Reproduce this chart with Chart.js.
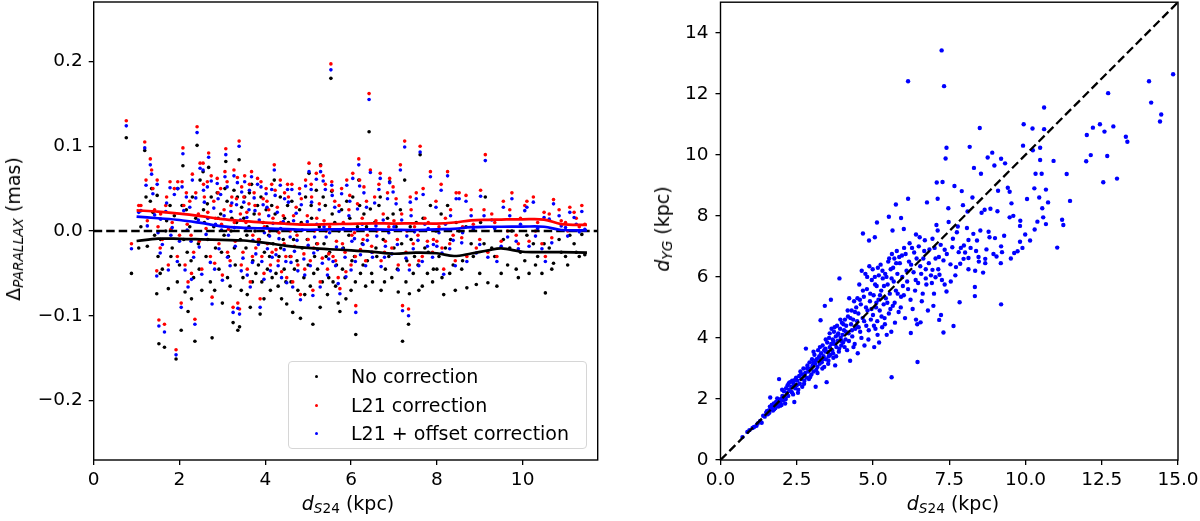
<!DOCTYPE html>
<html>
<head>
<meta charset="utf-8">
<script src="https://cdn.jsdelivr.net/npm/chart.js@4.4.1/dist/chart.umd.min.js"></script>
<style>
  body { margin: 0; background: #fff; width: 1200px; height: 521px; overflow: hidden; position: relative;
         font-family: 'DejaVu Sans', sans-serif; color: #000; }
  canvas { position: absolute; top: 0; }
  #left { left: 0; }
  #right { left: 600px; }
  .ttl { position: absolute; font-size: 19px; white-space: nowrap; transform: translate(-50%, -50%); }
  .ttl sub { font-size: 72%; position: relative; top: 0.25em; vertical-align: baseline; }
  .rot { transform: translate(-50%, -50%) rotate(-90deg); }
  #legend { position: absolute; left: 288px; top: 361px; width: 299px; height: 88px; box-sizing: border-box;
            border: 1px solid #d6d6d6; border-radius: 4px; background: rgba(255,255,255,0.8); font-size: 19px; }
  .row { position: absolute; left: 62px; height: 24px; line-height: 24px; white-space: nowrap; }
  .dot { position: absolute; left: 26px; width: 3px; height: 3px; border-radius: 50%; }
</style>
</head>
<body>
<canvas id="left" width="600" height="521"></canvas>
<canvas id="right" width="600" height="521"></canvas>

<div class="ttl" style="left:348px;top:503px"><i>d</i><sub><i>S</i>24</sub> (kpc)</div>
<div class="ttl rot" style="left:13px;top:229px">Δ<sub><i>PARALLAX</i></sub> (mas)</div>
<div class="ttl" style="left:953px;top:503px"><i>d</i><sub><i>S</i>24</sub> (kpc)</div>
<div class="ttl rot" style="left:662px;top:229px"><i>d</i><sub><i>YG</i></sub> (kpc)</div>

<div id="legend">
  <div class="dot" style="top:13px;background:#000"></div><div class="row" style="top:2px">No correction</div>
  <div class="dot" style="top:42px;background:#f00"></div><div class="row" style="top:31px">L21 correction</div>
  <div class="dot" style="top:70px;background:#00f"></div><div class="row" style="top:59px">L21 + offset correction</div>
</div>

<script>
// --- left panel: parallax residuals per star (same index = same star) ---
const distS24 = [
  0.76,0.88,1.05,1.10,1.19,1.22,1.32,1.35,1.42,1.47,
  1.48,1.50,1.52,1.56,1.60,1.65,1.70,1.74,1.78,1.83,
  1.88,1.92,1.96,2.00,2.04,2.08,2.10,2.13,2.16,2.20,
  2.24,2.27,2.30,2.33,2.36,2.41,2.44,2.48,2.52,2.55,
  2.58,2.62,2.65,2.68,2.72,2.76,2.80,2.84,2.88,2.92,
  2.96,3.00,3.04,3.08,3.11,3.14,3.18,3.22,3.25,3.27,
  3.30,3.33,3.36,3.39,3.40,3.42,3.45,3.48,3.52,3.55,
  3.58,3.62,3.65,3.68,3.71,3.74,3.78,3.82,3.86,3.88,
  3.92,3.95,3.98,4.02,4.05,4.08,4.12,4.15,4.18,4.21,
  4.25,4.28,4.32,4.35,4.38,4.42,4.45,4.48,4.50,4.54,
  4.58,4.62,4.64,4.68,4.72,4.76,4.80,4.82,4.86,4.90,
  4.94,4.98,5.02,5.05,5.08,5.11,5.15,5.19,5.22,5.26,
  5.29,5.33,5.37,5.40,5.45,5.50,5.53,5.55,5.58,5.62,
  5.66,5.70,5.74,5.78,5.82,5.86,5.90,5.95,6.00,6.04,
  6.08,6.11,6.15,6.18,6.22,6.26,6.30,6.34,6.38,6.42,
  6.45,6.50,6.55,6.60,6.65,6.70,6.75,6.80,6.85,6.90,
  6.95,7.00,7.05,7.10,7.15,7.20,7.25,7.30,7.34,7.36,
  7.40,7.45,7.52,7.56,7.61,7.66,7.72,7.78,7.85,7.92,
  7.98,8.05,8.12,8.16,8.25,8.32,8.38,8.43,8.52,8.60,
  8.70,8.80,8.92,9.02,9.13,9.19,9.28,9.40,9.55,9.65,
  9.75,9.85,9.95,10.05,10.15,10.25,10.35,10.45,10.53,10.62,
  10.72,10.85,11.00,11.10,11.25,11.38,11.45,
  1.25,1.38,1.55,1.68,1.80,1.95,2.06,2.18,2.28,2.38,
  2.46,2.56,2.66,2.74,2.82,2.90,2.98,3.06,3.12,3.20,
  3.28,3.35,3.44,3.50,3.57,3.63,3.70,3.76,3.84,3.90,
  3.97,4.04,4.10,4.16,4.23,4.30,4.36,4.44,4.52,4.60,
  4.66,4.74,4.84,4.92,5.00,5.07,5.13,5.20,5.28,5.35,
  5.42,5.48,5.56,5.64,5.72,5.80,5.88,5.97,6.02,6.10,
  6.20,6.28,6.36,6.48,6.58,6.68,6.78,6.88,6.98,7.08,
  7.18,7.28,7.38,7.48,7.58,7.68,7.80,7.90,8.00,8.10,
  8.20,8.30,8.45,8.58,8.68,8.85,9.00,9.10,9.35,9.50,
  9.70,9.90,10.10,10.30,10.50,10.68,10.90,11.05,11.20,11.32
];
const plxNoCorr = [
  0.110,-0.050,-0.020,0.005,0.095,0.040,0.035,0.050,-0.005,-0.074,
  0.042,-0.030,-0.133,-0.010,-0.045,-0.137,0.012,-0.068,0.030,-0.020,
  0.018,-0.151,0.050,-0.040,-0.117,0.077,-0.010,-0.072,0.025,-0.095,
  0.005,-0.035,0.040,-0.055,-0.130,0.101,-0.015,0.060,-0.070,0.070,
  0.010,-0.030,0.032,0.075,-0.060,-0.126,0.005,-0.020,0.045,-0.045,
  0.020,-0.085,-0.005,0.082,0.035,-0.030,-0.065,0.015,-0.108,0.048,
  -0.040,0.010,-0.117,0.084,-0.113,-0.010,0.028,-0.055,0.040,-0.020,
  -0.075,0.005,-0.090,0.055,-0.035,0.020,-0.050,0.030,-0.010,-0.098,
  -0.060,0.010,-0.025,0.025,-0.045,-0.005,-0.070,0.030,-0.015,0.060,
  -0.050,0.000,-0.030,0.040,-0.080,-0.010,0.015,-0.060,-0.086,0.010,
  -0.030,0.035,-0.096,-0.045,0.000,-0.070,0.025,-0.103,-0.020,-0.055,
  0.040,-0.010,0.068,-0.065,0.015,-0.110,-0.030,0.048,-0.045,0.005,
  0.078,-0.060,-0.015,0.030,-0.075,-0.025,0.180,0.047,-0.060,0.010,
  -0.040,-0.085,-0.095,0.025,-0.020,-0.055,0.035,-0.005,-0.070,0.040,
  -0.030,-0.122,0.005,0.060,-0.050,-0.015,0.020,-0.065,-0.035,0.117,
  0.026,-0.060,0.010,-0.030,0.030,-0.070,-0.010,-0.045,0.015,0.058,
  -0.055,-0.020,0.005,-0.072,0.025,-0.130,0.060,-0.035,-0.110,-0.074,
  -0.010,-0.050,0.010,-0.040,0.090,-0.065,-0.020,-0.050,0.030,-0.045,
  0.000,-0.030,-0.055,-0.075,0.030,-0.010,-0.040,-0.070,0.000,-0.035,
  -0.067,-0.015,-0.063,0.010,0.040,-0.061,-0.020,-0.065,-0.010,-0.040,
  0.000,-0.045,-0.025,-0.035,-0.050,-0.015,-0.030,-0.050,-0.073,-0.020,
  -0.038,-0.010,-0.030,-0.005,-0.025,-0.004,-0.028,
  -0.018,0.022,-0.050,0.000,-0.030,-0.060,0.030,-0.025,-0.080,0.015,
  -0.045,0.025,-0.010,0.040,-0.070,0.015,-0.025,0.050,-0.055,0.000,
  -0.020,0.040,-0.070,0.015,-0.005,0.045,-0.060,0.000,-0.040,0.040,
  -0.080,0.005,-0.030,-0.055,0.020,-0.065,-0.020,-0.045,0.030,-0.060,
  -0.010,-0.035,0.010,-0.075,-0.040,0.030,-0.050,-0.015,-0.090,0.040,
  -0.030,-0.055,0.020,-0.065,0.000,-0.045,-0.080,0.015,-0.035,-0.060,
  0.030,-0.040,0.005,-0.050,-0.020,0.040,-0.060,-0.030,0.020,-0.045,
  -0.015,-0.060,0.005,-0.030,-0.070,0.015,-0.025,-0.060,-0.045,0.020,
  -0.020,-0.050,0.010,-0.045,0.005,-0.030,-0.050,-0.015,-0.030,-0.050,
  -0.020,-0.055,-0.005,-0.040,-0.015,-0.045,-0.025,-0.040,-0.015,-0.030
];
const plxL21 = [
  0.130,-0.015,0.030,0.030,0.105,0.060,0.085,0.072,0.025,-0.047,
  0.060,0.005,-0.105,0.020,-0.010,-0.110,0.040,-0.040,0.058,0.010,
  0.050,-0.140,0.058,-0.005,-0.085,0.098,0.030,-0.040,0.045,-0.060,
  0.035,-0.005,0.067,-0.025,-0.104,0.123,0.020,0.080,-0.045,0.080,
  0.040,0.003,0.058,0.092,-0.030,-0.078,0.035,0.015,0.062,-0.015,
  0.050,-0.052,0.025,0.097,0.058,0.002,-0.035,0.040,-0.090,0.072,
  -0.012,0.038,-0.085,0.106,-0.092,0.020,0.052,-0.025,0.065,0.010,
  -0.045,0.032,-0.060,0.070,-0.005,0.045,-0.020,0.062,0.020,-0.080,
  -0.030,0.038,0.005,0.050,-0.015,0.025,-0.040,0.055,0.015,0.078,
  -0.022,0.028,-0.002,0.060,-0.048,0.018,0.045,-0.030,-0.055,0.040,
  0.000,0.055,-0.060,-0.018,0.028,-0.040,0.050,-0.075,0.008,-0.027,
  0.060,0.018,0.080,-0.035,0.040,-0.070,0.000,0.068,-0.015,0.032,
  0.077,-0.032,0.012,0.055,-0.045,0.005,0.197,0.058,-0.030,0.035,
  -0.012,-0.055,-0.068,0.050,0.010,-0.025,0.060,0.025,-0.040,0.068,
  -0.002,-0.088,0.032,0.085,-0.022,0.015,0.052,-0.035,-0.005,0.162,
  0.072,-0.025,0.040,0.000,0.055,-0.035,0.020,-0.012,0.045,0.062,
  -0.020,0.012,0.038,-0.040,0.078,-0.088,0.106,0.000,-0.092,-0.040,
  0.025,-0.015,0.045,-0.005,0.100,-0.030,0.015,-0.012,0.070,-0.010,
  0.035,0.005,-0.020,-0.045,0.070,0.025,-0.005,-0.035,0.045,0.005,
  -0.030,0.025,-0.020,0.048,0.090,-0.025,0.020,-0.030,0.035,0.000,
  0.045,-0.005,0.015,0.030,-0.012,0.040,0.010,-0.015,-0.030,0.020,
  0.037,0.025,0.010,0.028,0.015,0.030,0.008,
  0.012,0.050,-0.020,0.030,0.002,-0.030,0.058,0.008,-0.050,0.045,
  -0.012,0.055,0.022,0.065,-0.038,0.045,0.008,0.070,-0.025,0.030,
  0.010,0.063,-0.040,0.040,0.022,0.055,-0.030,0.030,-0.010,0.058,
  -0.050,0.035,0.000,-0.025,0.048,-0.035,0.010,-0.015,0.055,-0.030,
  0.018,-0.005,0.038,-0.045,-0.010,0.055,-0.020,0.015,-0.060,0.065,
  0.000,-0.027,0.048,-0.035,0.030,-0.015,-0.048,0.042,-0.005,-0.030,
  0.060,-0.010,0.035,-0.018,0.012,0.068,-0.025,0.005,0.052,-0.010,
  0.020,-0.025,0.040,0.005,-0.035,0.050,0.010,-0.025,-0.012,0.055,
  0.015,-0.015,0.045,-0.008,0.042,0.008,-0.010,0.025,0.010,-0.012,
  0.025,-0.015,0.035,0.000,0.022,-0.008,0.012,0.000,0.022,0.005
];
const plxL21Off = [
  0.124,-0.021,0.022,0.024,0.098,0.054,0.078,0.067,0.019,-0.053,
  0.055,-0.002,-0.112,0.014,-0.016,-0.119,0.033,-0.046,0.051,0.004,
  0.043,-0.146,0.050,-0.012,-0.090,0.091,0.024,-0.046,0.040,-0.066,
  0.028,-0.012,0.060,-0.031,-0.110,0.116,0.013,0.074,-0.051,0.072,
  0.034,-0.004,0.052,0.087,-0.037,-0.086,0.027,0.008,0.056,-0.021,
  0.043,-0.058,0.018,0.090,0.052,-0.005,-0.041,0.033,-0.096,0.065,
  -0.018,0.031,-0.091,0.100,-0.098,0.013,0.046,-0.032,0.058,0.003,
  -0.052,0.025,-0.066,0.064,-0.011,0.039,-0.027,0.055,0.013,-0.090,
  -0.036,0.031,-0.002,0.044,-0.021,0.018,-0.047,0.049,0.009,0.072,
  -0.028,0.022,-0.009,0.054,-0.055,0.011,0.038,-0.036,-0.061,0.034,
  -0.007,0.049,-0.066,-0.024,0.021,-0.047,0.044,-0.081,0.001,-0.033,
  0.053,0.011,0.070,-0.041,0.034,-0.076,-0.007,0.061,-0.022,0.025,
  0.070,-0.038,0.005,0.049,-0.052,-0.002,0.190,0.054,-0.036,0.028,
  -0.019,-0.062,-0.074,0.044,0.003,-0.031,0.054,0.018,-0.046,0.062,
  -0.009,-0.096,0.026,0.078,-0.028,0.008,0.045,-0.041,-0.011,0.155,
  0.069,-0.031,0.033,-0.006,0.049,-0.042,0.013,-0.018,0.038,0.057,
  -0.027,0.005,0.032,-0.046,0.072,-0.094,0.099,-0.006,-0.100,-0.046,
  0.018,-0.021,0.038,-0.011,0.093,-0.036,0.008,-0.018,0.064,-0.016,
  0.028,-0.002,-0.026,-0.051,0.065,0.018,-0.011,-0.041,0.038,-0.002,
  -0.036,0.018,-0.026,0.041,0.083,-0.031,0.013,-0.036,0.028,-0.007,
  0.038,-0.012,0.008,0.024,-0.018,0.034,0.003,-0.021,-0.036,0.014,
  0.032,0.018,0.004,0.022,0.008,0.023,0.002,
  0.006,0.044,-0.026,0.023,-0.005,-0.036,0.052,0.001,-0.057,0.039,
  -0.019,0.048,0.015,0.059,-0.045,0.038,0.001,0.064,-0.031,0.023,
  0.004,0.057,-0.047,0.034,0.016,0.048,-0.037,0.024,-0.016,0.052,
  -0.057,0.028,-0.006,-0.031,0.042,-0.041,0.003,-0.022,0.049,-0.037,
  0.012,-0.011,0.031,-0.052,-0.017,0.049,-0.026,0.008,-0.066,0.059,
  -0.007,-0.033,0.042,-0.041,0.023,-0.021,-0.054,0.035,-0.012,-0.036,
  0.053,-0.016,0.028,-0.025,0.006,0.062,-0.031,-0.002,0.046,-0.016,
  0.013,-0.032,0.034,-0.001,-0.041,0.043,0.003,-0.031,-0.018,0.048,
  0.008,-0.021,0.038,-0.014,0.035,0.002,-0.016,0.018,0.003,-0.018,
  0.018,-0.021,0.028,-0.006,0.016,-0.014,0.006,-0.006,0.016,-0.001
];

// running means drawn as lines
const trendDist = [1.0,1.5,2.0,2.5,3.0,3.5,4.0,4.5,5.0,5.5,6.0,6.5,7.0,7.5,8.0,8.4,8.8,9.2,9.5,10.0,10.5,10.9,11.5];
const trendNoCorr = [-0.0118,-0.0091,-0.0092,-0.0098,-0.0105,-0.0112,-0.0140,-0.0175,-0.0200,-0.0215,-0.0228,-0.0245,-0.0268,-0.0255,-0.0262,-0.0295,-0.0265,-0.0228,-0.0205,-0.0245,-0.0250,-0.0250,-0.0255];
const trendL21 = [0.0244,0.0228,0.0205,0.0175,0.0140,0.0118,0.0098,0.0085,0.0075,0.0080,0.0085,0.0090,0.0088,0.0090,0.0088,0.0100,0.0125,0.0132,0.0135,0.0138,0.0135,0.0082,0.0072];
const trendL21Off = [0.0169,0.0150,0.0130,0.0095,0.0055,0.0038,0.0030,0.0022,0.0015,0.0018,0.0020,0.0018,0.0015,0.0012,0.0020,0.0025,0.0045,0.0050,0.0050,0.0052,0.0050,0.0012,0.0008];

const leftXTicks = [0, 2, 4, 6, 8, 10];
const leftYTicks = [-0.2, -0.1, 0, 0.1, 0.2];
const leftXMax = 11.75, leftYLim = 0.27;

// --- right panel: d_YG against d_S24 ---
const ygVsS24 = [
  [0.72,0.75],[0.88,0.92],[0.95,0.98],[1.05,1.05],[1.10,1.08],[1.18,1.12],[1.22,1.20],[1.30,1.28],[1.35,1.22],[1.40,1.45],
  [1.45,1.42],[1.50,1.55],[1.52,1.60],[1.58,1.62],[1.60,1.55],[1.62,1.75],[1.65,1.68],[1.70,1.72],[1.72,1.62],[1.75,1.85],
  [1.78,1.78],[1.80,1.70],[1.82,1.90],[1.85,1.82],[1.88,1.95],[1.90,1.75],[1.92,2.65],[1.95,1.88],[1.98,2.00],[2.00,1.80],
  [2.03,2.10],[2.05,1.95],[2.08,2.25],[2.10,2.05],[2.12,1.85],[2.15,2.35],[2.18,2.20],[2.20,2.45],[2.22,2.10],[2.25,2.30],
  [2.28,2.55],[2.30,2.25],[2.32,2.40],[2.35,2.60],[2.38,2.15],[2.40,2.50],[2.42,1.90],[2.45,2.35],[2.48,2.70],[2.50,2.45],
  [1.63,2.05],[2.52,2.60],[2.55,2.30],[2.58,2.75],[2.60,2.50],[2.62,2.90],[2.65,2.65],[2.68,2.40],[2.70,2.80],[2.72,3.00],
  [2.75,2.60],[2.78,2.85],[2.80,3.65],[2.82,2.70],[2.85,3.10],[2.88,2.90],[2.90,2.65],[2.92,3.20],[2.95,3.00],[2.98,2.80],
  [3.00,3.30],[3.02,3.10],[3.05,2.90],[3.08,3.45],[3.10,3.15],[3.12,2.40],[3.15,3.30],[3.18,3.05],[3.20,3.60],[3.22,3.35],
  [3.25,3.15],[3.28,4.58],[3.30,3.50],[3.32,3.20],[3.35,3.75],[3.38,3.40],[3.40,3.05],[3.42,5.05],[3.44,3.65],[3.46,3.30],
  [3.48,2.55],[3.50,3.85],[3.52,3.55],[3.54,3.25],[3.56,4.00],[3.58,3.70],[3.60,3.45],[3.62,5.25],[3.64,4.30],[3.66,3.60],
  [3.68,3.95],[3.70,3.35],[3.72,4.20],[3.74,3.80],[3.76,3.10],[3.78,4.05],[3.80,3.70],[3.82,4.40],[3.84,3.90],[3.86,4.15],
  [3.88,3.55],[3.90,5.95],[3.92,4.30],[3.94,4.00],[3.96,3.75],[3.98,4.50],[4.00,4.10],[4.02,3.85],[4.05,4.25],[4.08,4.60],
  [4.10,3.95],[4.12,4.40],[4.15,3.60],[4.18,4.70],[4.20,4.15],[4.22,5.30],[4.25,3.25],[4.28,4.45],[4.30,4.90],[4.32,4.05],
  [4.35,4.60],[4.38,5.20],[4.40,3.80],[4.42,4.30],[4.45,5.00],[4.48,4.55],[4.50,3.50],[4.52,4.80],[4.55,5.75],[4.58,4.20],
  [4.60,5.10],[4.63,6.20],[4.66,4.65],[4.70,5.35],[4.72,3.75],[4.75,6.10],[4.78,4.40],[4.80,5.60],[4.82,4.90],[4.85,3.95],
  [4.88,6.35],[4.90,5.20],[4.93,4.60],[4.96,5.90],[5.00,4.75],[5.02,5.40],[5.04,3.70],[5.06,6.00],[5.08,4.30],[5.10,5.00],
  [5.12,5.70],[5.14,4.55],[5.16,6.30],[5.18,5.25],[5.20,3.85],[5.22,4.90],[5.25,6.40],[5.27,5.55],[5.30,4.35],[5.32,5.95],
  [5.35,5.10],[5.38,4.65],[5.40,6.10],[5.42,5.30],[5.45,4.10],[5.48,5.75],[5.50,6.50],[5.52,4.80],[5.55,5.45],[5.58,6.25],
  [5.60,4.20],[5.62,6.75],[5.65,5.05],[5.68,5.85],[5.70,6.60],[5.72,4.50],[5.75,5.55],[5.78,6.85],[5.80,6.10],[5.84,4.85],
  [5.88,6.45],[5.92,5.35],[5.95,6.70],[5.98,5.70],[6.02,6.95],[6.05,4.65],[6.10,6.20],[6.15,5.60],[6.20,7.10],[6.25,6.40],
  [6.30,4.95],[6.35,6.80],[6.40,5.90],[6.45,4.45],[6.50,7.00],[6.55,6.35],[6.60,5.20],[6.65,6.60],[6.70,7.20],[6.75,5.75],
  [6.80,4.90],[6.85,6.90],[6.90,6.05],[6.95,7.25],[7.00,5.45],[7.05,6.60],
  [1.55,1.50],[1.68,1.80],[1.76,1.66],[1.86,2.02],[1.96,1.78],[2.02,2.30],[2.14,2.00],[2.24,2.52],[2.34,2.22],[2.44,2.62],
  [2.54,2.20],[2.64,2.80],[2.74,2.50],[2.84,3.00],[2.94,2.72],[3.04,3.20],[3.14,2.95],[3.24,3.40],[3.34,3.00],[3.44,3.55],
  [3.05,3.55],[3.12,3.25],[3.18,2.85],[3.26,3.70],[3.36,3.30],[3.45,3.95],[3.53,3.15],[3.58,4.15],[3.63,3.80],[3.69,3.50],
  [3.74,4.35],[3.79,3.40],[3.85,4.10],[3.89,3.65],[3.93,4.60],[3.97,3.90],[4.03,4.45],[4.07,3.70],[4.11,4.20],[4.17,4.90],
  [4.21,3.90],[4.26,4.65],[4.31,4.25],[4.36,3.70],[4.41,4.85],[4.46,4.40],[4.49,5.30],[3.70,3.90],[3.55,3.40],[3.40,3.60],
  [4.53,4.35],[4.57,5.25],[4.62,4.00],[4.67,5.55],[4.71,4.55],[4.77,5.00],[4.81,6.00],[4.86,4.25],[4.91,5.45],[4.95,4.95],
  [4.99,6.25],[5.03,4.40],[5.07,5.75],[5.11,5.15],[5.15,4.10],[5.19,6.05],[5.23,5.40],[5.28,4.70],[5.31,6.20],[5.36,5.70],
  [5.39,4.45],[5.44,6.00],[5.47,5.15],[5.53,6.60],[5.57,4.95],[5.61,5.95],[5.66,6.30],[5.71,5.15],[5.76,6.45],[5.81,5.45],
  [5.86,6.65],[5.91,5.00],[5.96,6.00],[6.01,5.40],[6.07,6.75],[6.12,5.85],[6.18,6.50],[6.23,5.25],[6.28,6.95],[6.33,6.15],
  [6.38,5.55],[6.43,6.60],[6.48,5.80],[6.53,7.30],[6.58,6.10],[6.63,5.45],[6.68,6.85],[6.73,5.95],[6.83,6.45],[6.93,5.80],
  [7.02,6.95],[7.08,7.70],[7.14,6.25],[7.22,7.05],[7.26,5.90],[7.42,6.75],[7.48,7.80],[7.55,5.85],[7.62,7.25],[7.70,6.05],
  [7.78,7.65],[7.88,6.95],[7.95,8.35],[8.02,6.80],[8.08,7.60],[8.20,6.95],[8.26,8.60],[8.38,6.85],[8.56,8.10],[8.72,6.90],
  [8.82,7.30],[8.95,6.75],[9.08,8.15],[9.30,7.35],[9.52,6.60],[9.60,8.00],[9.90,6.95],[10.05,8.55],[10.30,7.55],[10.58,7.95],
  [7.25,13.42],[6.15,12.41],[7.33,12.25],[14.84,12.64],[14.05,12.41],[14.12,11.71],[14.45,11.32],[14.41,11.09],[12.71,12.02],[10.61,11.55],
  [8.50,10.88],[9.94,11.00],[10.23,10.86],[10.61,10.84],[12.44,11.00],[12.21,10.89],[12.88,10.93],[12.59,10.76],[12.01,10.65],[13.29,10.59],
  [13.34,10.43],[7.41,10.23],[8.17,10.26],[9.92,10.30],[10.48,10.23],[10.24,10.15],[8.91,10.07],[12.14,9.99],[12.68,9.96],[7.38,9.88],
  [8.76,9.91],[9.20,9.87],[10.48,9.83],[10.92,9.80],[11.99,9.79],[9.33,9.72],[8.98,9.65],[8.31,9.57],[8.54,9.38],[10.33,9.38],
  [10.53,9.38],[11.35,9.37],[13.00,9.22],[12.55,9.10],[7.09,9.09],[7.28,9.11],[9.42,8.92],[9.10,8.82],[10.29,8.90],[9.48,8.79],
  [10.67,8.86],[7.67,8.98],[7.91,8.81],[11.46,8.49],[10.45,8.60],[6.15,8.56],[5.75,8.37],[7.12,8.56],[6.77,8.44],[7.47,8.25],
  [8.10,8.14],[8.66,8.20],[8.85,8.23],[9.54,8.41],[10.55,8.25],[10.74,8.44],[5.52,7.97],[5.92,7.93],[5.13,7.78],[9.48,7.95],
  [9.83,7.84],[9.82,7.67],[10.39,7.81],[10.67,7.73],[11.20,7.87],[11.24,7.70],[9.99,7.39],[10.15,7.19],[9.82,7.15],[11.04,6.96],
  [9.63,6.78],[9.74,6.84],[4.67,7.42],[4.87,7.19],[5.06,7.30],[5.64,7.52],[6.01,7.57],[6.41,7.39],[7.12,7.52],[7.75,7.46],
  [8.79,7.48],[9.00,7.27],[9.20,7.00],[9.23,6.81],[9.19,6.45],[9.05,6.67],[8.68,6.59],[8.68,6.45],[8.46,6.65],[8.47,6.50],
  [8.13,6.62],[8.13,6.25],[8.35,6.20],[8.61,6.14],[8.34,5.67],[8.34,5.37],[7.84,5.17],[9.20,5.10],[6.46,3.21],[5.61,2.71],
  [7.64,4.39],[7.31,4.18],[7.17,4.59],[7.23,4.75],[6.98,5.05],[6.24,4.16],[6.41,4.60],[6.56,4.51],[7.41,5.52],[7.35,5.75],
  [7.05,5.99],[7.18,6.07],[6.95,6.23],[6.73,6.25],[7.72,6.32],[7.54,6.41],[7.31,6.54],[7.16,6.65],[7.35,6.89],[7.60,6.97],
  [7.81,6.81],[7.97,6.59],[7.86,6.43],[7.98,7.03],[8.29,7.41],[8.13,7.21],[8.41,7.19],[8.52,7.52]
];
const rightXTicks = [0, 2.5, 5, 7.5, 10, 12.5, 15];
const rightYTicks = [0, 2, 4, 6, 8, 10, 12, 14];
const rightLim = 15;

Chart.defaults.font.family = "'DejaVu Sans', sans-serif";
Chart.defaults.color = '#000';

const framePlugin = {
  id: 'frame',
  afterDatasetsDraw(chart) {
    const { ctx, chartArea: a } = chart;
    ctx.save();
    ctx.strokeStyle = '#000';
    ctx.lineWidth = 1.4;
    ctx.strokeRect(a.left, a.top, a.right - a.left, a.bottom - a.top);
    ctx.restore();
  }
};

// fixed axis sizes so the plot box lands where it is in the figure
function axis(min, max, tickVals, fmt, size, pad) {
  return {
    type: 'linear', min: min, max: max,
    afterBuildTicks: s => { s.ticks = tickVals.map(v => ({ value: v })); },
    afterFit: s => {
      if (s.isHorizontal()) s.height = size; else s.width = size;
      s.paddingTop = s.paddingBottom = s.paddingLeft = s.paddingRight = 0;
    },
    ticks: { callback: fmt, font: { size: 18.5 }, padding: pad, maxRotation: 0, autoSkip: false },
    grid: { drawOnChartArea: false, drawTicks: true, tickLength: 5, color: '#000', lineWidth: 1.3 },
    border: { display: false }
  };
}

const toPts = (xs, ys) => xs.map((x, i) => ({ x: x, y: ys[i] }));
const dotSet = (data, color, order, r) => ({
  data: data, backgroundColor: color, borderWidth: 0, pointRadius: r, pointHoverRadius: r, order: order
});
const lineSet = (data, color, order, w, dash) => ({
  data: data, showLine: true, borderColor: color, borderWidth: w, borderDash: dash || [],
  pointRadius: 0, tension: dash ? 0 : 0.35, order: order
});
const minus = v => (v < 0 ? '\u2212' : '') + Math.abs(v).toFixed(1);

new Chart(document.getElementById('left'), {
  type: 'scatter',
  data: {
    datasets: [
      lineSet(toPts(trendDist, trendL21Off), '#0000ff', 0, 2.7),
      lineSet(toPts(trendDist, trendL21), '#ff0000', 1, 2.7),
      lineSet(toPts(trendDist, trendNoCorr), '#000000', 2, 2.7),
      lineSet([{ x: 0, y: 0 }, { x: leftXMax, y: 0 }], '#000000', 3, 2.3, [8.5, 4]),
      dotSet(toPts(distS24, plxL21Off), '#0000ff', 4, 1.8),
      dotSet(toPts(distS24, plxL21), '#ff0000', 5, 1.8),
      dotSet(toPts(distS24, plxNoCorr), '#000000', 6, 1.8)
    ]
  },
  options: {
    responsive: false, animation: false,
    layout: { padding: { top: 2, right: 2.3, left: 0, bottom: 0 } },
    plugins: { legend: { display: false }, tooltip: { enabled: false } },
    scales: {
      x: axis(0, leftXMax, leftXTicks, v => String(v), 61, 4),
      y: axis(-leftYLim, leftYLim, leftYTicks, minus, 93.7, 6)
    }
  },
  plugins: [framePlugin]
});

new Chart(document.getElementById('right'), {
  type: 'scatter',
  data: {
    datasets: [
      lineSet([{ x: 0, y: 0 }, { x: rightLim, y: rightLim }], '#000000', 0, 2.3, [8.5, 4]),
      dotSet(ygVsS24.map(p => ({ x: p[0], y: p[1] })), '#0000ff', 1, 2.2)
    ]
  },
  options: {
    responsive: false, animation: false,
    layout: { padding: { top: 2, right: 22, left: 0, bottom: 0 } },
    plugins: { legend: { display: false }, tooltip: { enabled: false } },
    scales: {
      x: axis(0, rightLim, rightXTicks, v => v.toFixed(1), 61, 4),
      y: axis(0, rightLim, rightYTicks, v => String(v), 120.5, 7)
    }
  },
  plugins: [framePlugin]
});
</script>
</body>
</html>
